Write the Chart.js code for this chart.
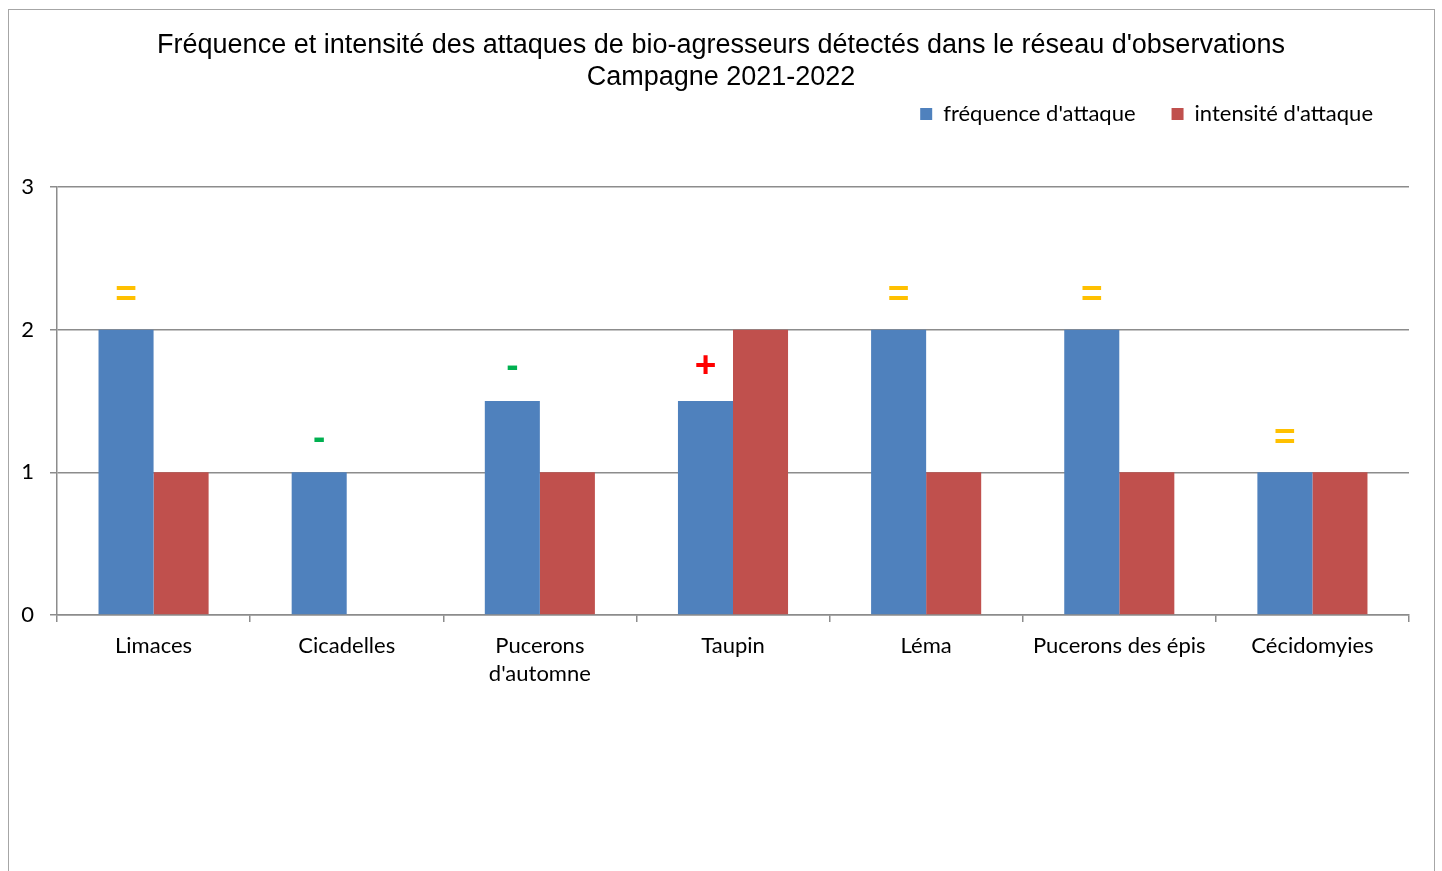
<!DOCTYPE html>
<html lang="fr">
<head>
<meta charset="utf-8">
<title>Bio-agresseurs 2021-2022</title>
<script src="https://cdn.jsdelivr.net/npm/chart.js@4.4.1/dist/chart.umd.min.js"></script>
<style>
  body { margin: 0; background: #fff; }
  #wrap { position: relative; width: 1442px; height: 871px; overflow: hidden; }
  #frame {
    position: absolute; left: 8px; top: 9px; width: 1425px; height: 900px;
    border: 1.5px solid #a6a6a6;
  }
  #attack-bar-chart { position: absolute; left: 0; top: 0; }
</style>
</head>
<body>
<div id="wrap">
  <div id="frame"></div>
  <canvas id="attack-bar-chart" width="1442" height="871"></canvas>
</div>
<script>
const categories = [
  "Limaces",
  "Cicadelles",
  ["Pucerons", "d'automne"],
  "Taupin",
  "Léma",
  "Pucerons des épis",
  "Cécidomyies",
];
const frequence = [2, 1, 1.5, 1.5, 2, 2, 1];
const intensite = [1, 0, 1, 2, 1, 1, 1];
// evolution compared to the previous campaign
const tendances = ["=", "-", "-", "+", "=", "=", "="];
const yTicks = [0, 1, 2, 3];

const trendColors = { "=": "#FFC000", "-": "#00B050", "+": "#FF0000" };
const gridColor = "#8c8c8c";

// trend sign written above each "fréquence" bar
const trendLabels = {
  id: "trendLabels",
  afterDatasetsDraw(chart) {
    const { ctx } = chart;
    const bars = chart.getDatasetMeta(0).data;
    ctx.save();
    ctx.textAlign = "center";
    ctx.textBaseline = "middle";
    ctx.font = "bold 37px 'Liberation Sans'";
    bars.forEach((bar, i) => {
      ctx.fillStyle = trendColors[tendances[i]];
      ctx.fillText(tendances[i], bar.x, bar.y - 34);
    });
    ctx.restore();
  },
};

// leave room between the legend and the plot,
// and center the title on the whole canvas
const layoutTweaks = {
  id: "layoutTweaks",
  beforeInit(chart) {
    const origFit = chart.legend.fit;
    chart.legend.fit = function fit() {
      origFit.bind(chart.legend)();
      this.height += 52;
    };
  },
  afterLayout(chart) {
    const title = chart.titleBlock;
    const shift = (chart.width - title.right - title.left) / 2;
    title.left += shift;
    title.right += shift;
  },
};

new Chart(document.getElementById("attack-bar-chart"), {
  type: "bar",
  data: {
    labels: categories,
    datasets: [
      {
        label: "fréquence d'attaque",
        data: frequence,
        backgroundColor: "#4F81BD",
      },
      {
        label: "intensité d'attaque",
        data: intensite,
        backgroundColor: "#C0504D",
      },
    ],
  },
  options: {
    responsive: false,
    devicePixelRatio: 1,
    animation: false,
    categoryPercentage: 0.57,
    barPercentage: 1,
    layout: { padding: { left: 0, right: 33, top: 0, bottom: 0 } },
    plugins: {
      title: {
        display: true,
        text: [
          "Fréquence et intensité des attaques de bio-agresseurs détectés dans le réseau d'observations",
          "Campagne 2021-2022",
        ],
        color: "#000",
        font: { family: "'Liberation Sans'", size: 27, weight: "normal", lineHeight: 1.185 },
        padding: { top: 30, bottom: -27 },
      },
      legend: {
        position: "top",
        align: "end",
        labels: {
          boxWidth: 12,
          boxHeight: 12,
          padding: 36,
          color: "#000",
          font: { family: "Lato", size: 22 },
        },
      },
      tooltip: { enabled: false },
    },
    scales: {
      x: {
        offset: true,
        grid: {
          offset: true,
          drawOnChartArea: false,
          color: gridColor,
          lineWidth: 1.5,
          tickLength: 7,
        },
        border: { color: gridColor, width: 1.5 },
        ticks: {
          color: "#000",
          padding: 10,
          maxRotation: 0,
          autoSkip: false,
          font: { family: "Lato", size: 22, lineHeight: 1.27 },
        },
        afterFit(scale) {
          scale.height = 256;
        },
      },
      y: {
        min: 0,
        max: 3,
        afterBuildTicks(scale) {
          scale.ticks = yTicks.map((v) => ({ value: v }));
        },
        grid: { color: gridColor, lineWidth: 1.5, tickLength: 7 },
        border: { color: gridColor, width: 1.5 },
        ticks: {
          color: "#000",
          padding: 16,
          font: { family: "Lato", size: 22 },
        },
        afterFit(scale) {
          scale.width = 57;
        },
      },
    },
  },
  plugins: [trendLabels, layoutTweaks],
});
</script>
</body>
</html>
